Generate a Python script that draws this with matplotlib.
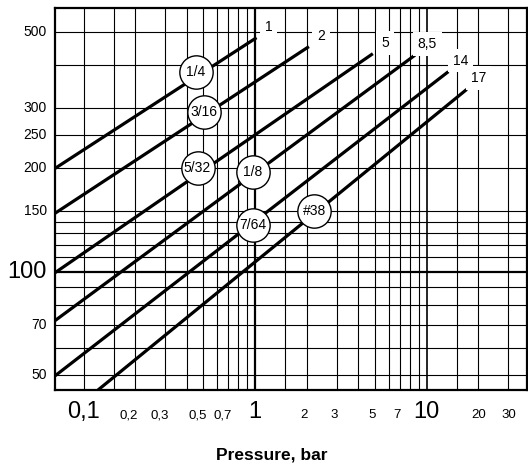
import numpy as np
import matplotlib
matplotlib.use("Agg")
import matplotlib.pyplot as plt
from matplotlib.transforms import offset_copy

# nozzle curves: pressure (bar) and flow at the start / end of each line
line_end_labels = ["1", "2", "5", "8,5", "14", "17"]
p_start = [0.0682, 0.0682, 0.0682, 0.0682, 0.0682, 0.1215]
q_start = [200, 148, 99.3, 72, 49.7, 45.2]
p_end = [1.02, 2.06, 4.86, 8.57, 13.4, 17.15]
q_end = [481, 453, 432, 428, 383, 340]

# orifice size bubbles
bubble_labels = ["1/4", "3/16", "5/32", "1/8", "7/64", "#38"]
bubble_p = [0.451, 0.506, 0.462, 0.973, 0.967, 2.21]
bubble_q = [383, 293, 201, 195, 137, 150.6]

# grid and tick labels
x_grid = [0.1, 0.15, 0.2, 0.3, 0.4, 0.5, 0.6, 0.7, 0.8, 0.9,
          1, 1.5, 2, 3, 4, 5, 6, 7, 8, 9, 10, 15, 20, 30]
y_grid = [50, 60, 70, 80, 90, 100, 110, 120, 130, 140, 150,
          200, 250, 300, 400, 500]
x_ticks = [0.1, 0.2, 0.3, 0.5, 0.7, 1, 2, 3, 5, 7, 10, 20, 30]
x_tick_labels = ["0,1", "0,2", "0,3", "0,5", "0,7", "1", "2", "3", "5", "7", "10", "20", "30"]
x_big = ["0,1", "1", "10"]
y_ticks = [50, 70, 100, 150, 200, 250, 300, 500]
y_tick_labels = ["50", "70", "100", "150", "200", "250", "300", "500"]
y_big = ["100"]

plt.rcParams["font.family"] = ["Liberation Sans Narrow", "Liberation Sans", "DejaVu Sans"]

W, H = 528, 467
fig = plt.figure(figsize=(W / 100, H / 100), dpi=100)
ax = fig.add_axes([55 / W, (H - 390) / H, 472 / W, 382 / H])
ax.set_xscale("log")
ax.set_yscale("log")
ax.set_xlim(0.0682, 38.5)
ax.set_ylim(45.2, 587)

for x in x_grid:
    lw = 1.6 if x == 1 else (1.2 if x == 10 else 0.8)
    ax.axvline(x, color="black", lw=lw, zorder=1)
for y in y_grid:
    lw = 1.6 if y == 100 else 0.8
    ax.axhline(y, color="black", lw=lw, zorder=1)

for s in ax.spines.values():
    s.set_linewidth(1.6)
ax.set_xticks([])
ax.set_yticks([])
ax.minorticks_off()

for lab, p0, q0, p1, q1 in zip(line_end_labels, p_start, q_start, p_end, q_end):
    ax.plot([p0, p1], [q0, q1], color="black", lw=2.3, solid_capstyle="butt", zorder=3)
    ax.annotate(lab, (p1, q1), xytext=(12, 11), textcoords="offset pixels",
                ha="center", va="center", fontsize=10, zorder=4,
                bbox=dict(boxstyle="square,pad=0.35", fc="white", ec="none"))

ax.plot(bubble_p, bubble_q, "o", ms=24, mfc="white", mec="black", mew=1.0,
        zorder=5, clip_on=False)
for lab, p, q in zip(bubble_labels, bubble_p, bubble_q):
    ax.text(p, q, lab, ha="center", va="center", fontsize=10, zorder=6)

# small labels sit a little left of their grid line in the original
xt = ax.get_xaxis_transform()
for x, lab in zip(x_ticks, x_tick_labels):
    if lab in x_big or x >= 20:
        shift = 0
    elif x < 1:
        shift = -6
    else:
        shift = -3
    tr = offset_copy(xt, fig=fig, x=shift, y=0, units="dots")
    ax.text(x, -0.0733, lab, transform=tr, ha="center", va="baseline",
            fontsize=17 if lab in x_big else 9.5)
for y, lab in zip(y_ticks, y_tick_labels):
    ax.text(-0.017, y, lab, transform=ax.get_yaxis_transform(),
            ha="right", va="center", fontsize=17 if lab in y_big else 10)

fig.text(272 / W, 1 - 455 / H, "Pressure, bar", ha="center", va="center",
         fontsize=12.5, fontweight="bold", family=["Liberation Sans", "DejaVu Sans"])

fig.savefig("out.png", dpi=100)
